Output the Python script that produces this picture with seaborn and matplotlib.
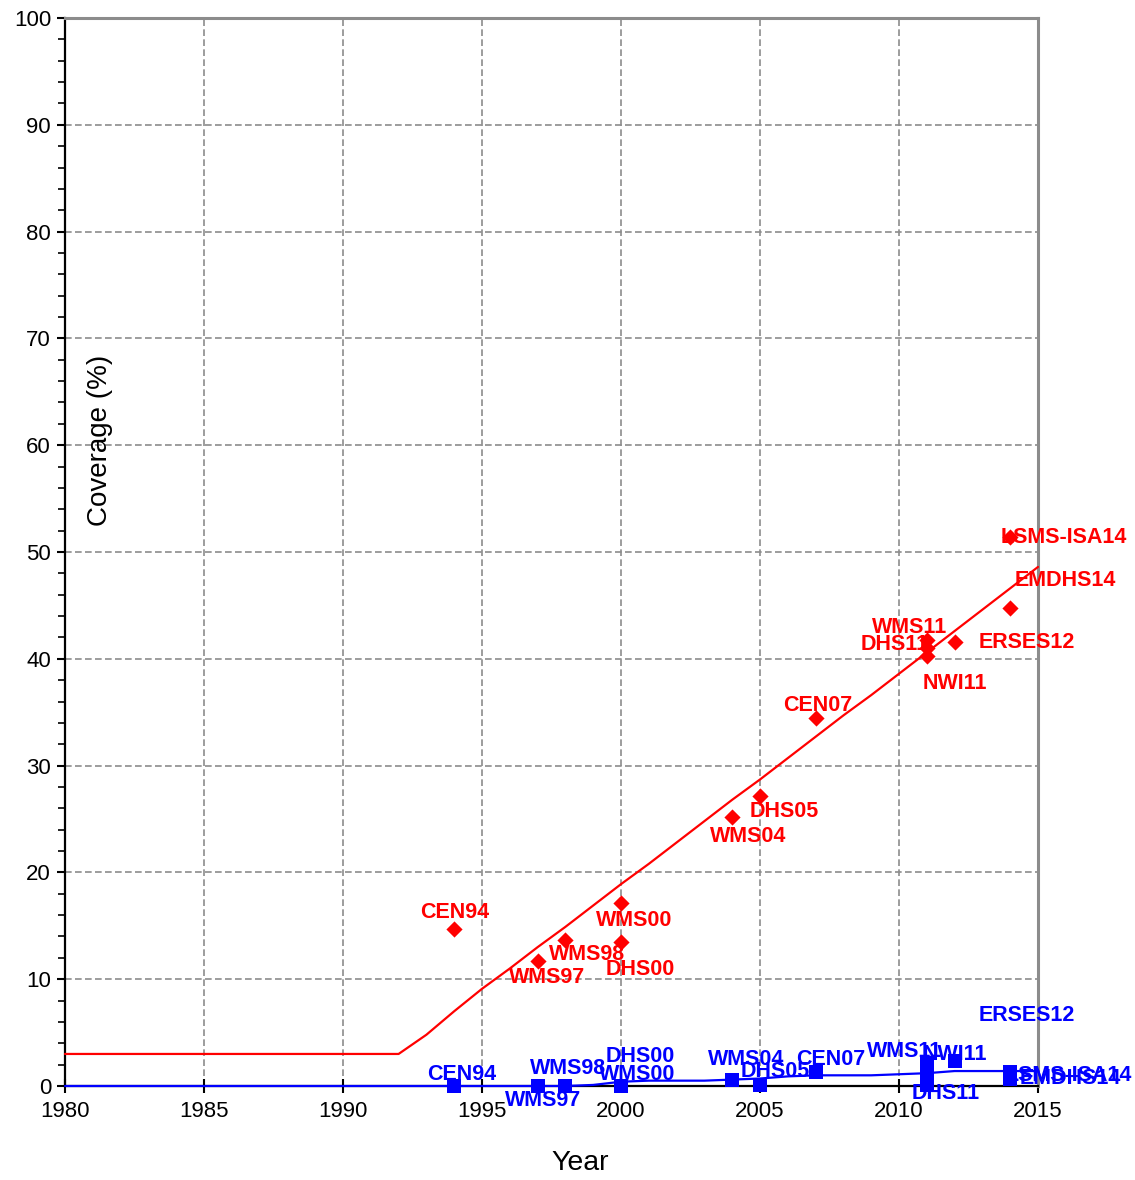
import matplotlib
matplotlib.use("Agg")
import matplotlib.pyplot as plt
import seaborn as sns
import pandas as pd
import numpy as np

# ---------------- data ----------------
survey_labels = ["CEN94", "WMS97", "WMS98", "WMS00", "DHS00", "WMS04", "DHS05",
                 "CEN07", "WMS11", "DHS11", "NWI11", "ERSES12", "EMDHS14", "LSMS-ISA14"]
survey_years = [1994, 1997, 1998, 2000, 2000, 2004, 2005,
                2007, 2011, 2011, 2011, 2012, 2014, 2014]
red_survey_values = [14.7, 11.7, 13.7, 17.1, 13.5, 25.2, 27.2,
                     34.5, 41.8, 41.0, 40.3, 41.6, 44.8, 51.4]
blue_survey_values = [0.0, 0.0, 0.0, 0.0, 0.0, 0.6, 0.1,
                      1.3, 2.2, 0.1, 1.0, 2.3, 0.7, 1.3]

trend_years = list(range(1980, 2016))
red_trend = [3.0] * 13 + [4.8, 7.0, 9.1, 11.0, 13.0, 14.9, 16.9, 18.9, 20.8, 22.8,
                          24.8, 26.8, 28.7, 30.7, 32.7, 34.7, 36.6, 38.6, 40.6,
                          42.6, 44.6, 46.6, 48.6]
blue_trend = [0.0] * 19 + [0.1, 0.4, 0.5, 0.5, 0.5, 0.6, 0.7, 0.9, 1.0, 1.0, 1.0,
                           1.1, 1.2, 1.4, 1.4, 1.4, 1.4]

x_ticks = [1980, 1985, 1990, 1995, 2000, 2005, 2010, 2015]
y_ticks = [0, 10, 20, 30, 40, 50, 60, 70, 80, 90, 100]

# label offsets in pixels (style/positions)
red_offsets = [(0, 17), (10, -16), (22, -15), (13, -17), (19, -28), (16, -20), (24, -16),
               (2, 12), (-17, 12), (-32, 4), (28, -28), (72, -1), (55, 27), (54, 0)]
blue_offsets = [(7, 12), (6, -15), (3, 18), (16, 12), (19, 30), (14, 20), (15, 13),
                (15, 13), (-22, 11), (19, -9), (28, 21), (72, 46), (60, 0), (59, -3)]

RED = "#FF0000"
BLUE = "#0000FF"

sns.set_theme(style="white")
plt.rcParams["font.family"] = ["Liberation Sans", "DejaVu Sans"]
plt.rcParams["text.color"] = "black"
plt.rcParams["axes.labelcolor"] = "black"
plt.rcParams["xtick.color"] = "black"
plt.rcParams["ytick.color"] = "black"

fig = plt.figure(figsize=(11.35, 11.8), dpi=100)
ax = fig.add_axes([65 / 1135, 1 - 1086 / 1180, 973 / 1135, 1068 / 1180])

trend_df = pd.DataFrame({"Year": trend_years, "red": red_trend, "blue": blue_trend})
pts_df = pd.DataFrame({"Year": survey_years, "red": red_survey_values,
                       "blue": blue_survey_values, "label": survey_labels})

sns.lineplot(data=trend_df, x="Year", y="red", ax=ax, color=RED, lw=1.6,
             zorder=3, clip_on=False)
sns.lineplot(data=trend_df, x="Year", y="blue", ax=ax, color=BLUE, lw=1.6,
             zorder=3, clip_on=False)
sns.scatterplot(data=pts_df, x="Year", y="red", ax=ax, marker="D", s=68,
                color=RED, edgecolor=RED, linewidth=0, zorder=4, clip_on=False)
sns.scatterplot(data=pts_df, x="Year", y="blue", ax=ax, marker="s", s=100,
                color=BLUE, edgecolor=BLUE, linewidth=0, zorder=4, clip_on=False)

LABEL_FS = 15.5
for i, lab in enumerate(survey_labels):
    ax.annotate(lab, (survey_years[i], red_survey_values[i]),
                xytext=red_offsets[i], textcoords="offset pixels",
                ha="center", va="center", fontsize=LABEL_FS, fontweight="bold",
                color=RED, zorder=5, annotation_clip=False)
    ax.annotate(lab, (survey_years[i], blue_survey_values[i]),
                xytext=blue_offsets[i], textcoords="offset pixels",
                ha="center", va="center", fontsize=LABEL_FS, fontweight="bold",
                color=BLUE, zorder=5, annotation_clip=False)

ax.set_xlim(1980, 2015)
ax.set_ylim(0, 100)
ax.set_xticks(x_ticks)
ax.set_yticks(y_ticks)
ax.set_yticks(np.arange(0, 101, 2), minor=True)
ax.tick_params(axis="both", labelsize=16, colors="black")
ax.tick_params(axis="y", which="major", direction="out", length=6, width=1.5,
               left=True, pad=4)
ax.tick_params(axis="y", which="minor", direction="out", length=5, width=1.2, left=True)
ax.tick_params(axis="x", which="major", direction="inout", length=10, width=1.5,
               bottom=True, pad=6)

ax.grid(True, which="major", color="#8c8c8c", linestyle=(0, (4, 2)), linewidth=1.2)
ax.set_axisbelow(True)

for side in ["left", "bottom"]:
    ax.spines[side].set_color("black")
    ax.spines[side].set_linewidth(1.6)
for side in ["top", "right"]:
    ax.spines[side].set_visible(True)
    ax.spines[side].set_color("#8c8c8c")
    ax.spines[side].set_linewidth(2.2)

ax.set_xlabel("Year", fontsize=20.5, color="black")
ax.set_ylabel("Coverage (%)", fontsize=20, color="black")
ax.xaxis.label.set_va("center")
ax.yaxis.label.set_va("center")
ax.xaxis.set_label_coords((580 - 65) / 973, (1086 - 1163) / 1068)
ax.yaxis.set_label_coords((100 - 65) / 973, (1086 - 440) / 1068)

fig.savefig("out.png", dpi=100)
